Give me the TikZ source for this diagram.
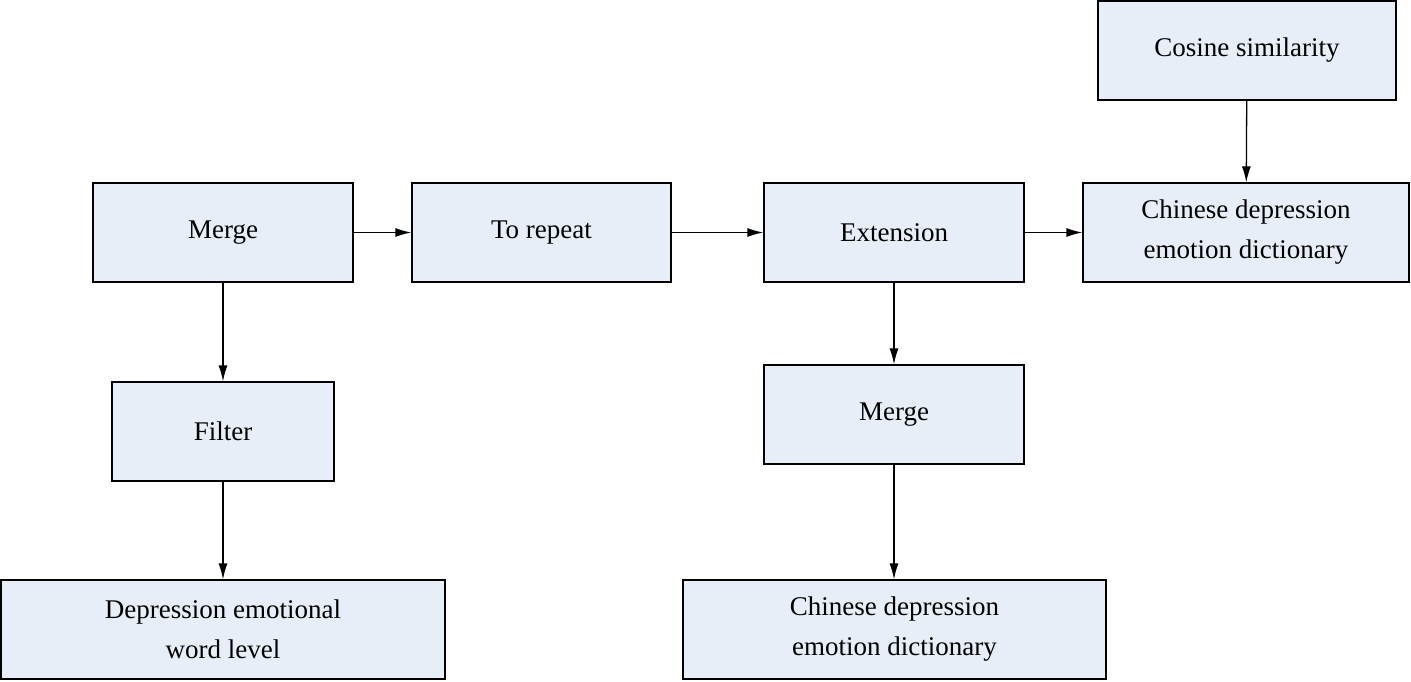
\documentclass[tikz,border=0pt]{standalone}
\usepackage{fontspec}
\setmainfont{Liberation Serif}
\usetikzlibrary{arrows.meta}
\definecolor{boxfill}{HTML}{E8EEF8}
\begin{document}
\begin{tikzpicture}[x=1pt,y=-1pt,
  box/.style={draw,line width=1.3pt,fill=boxfill,align=center,inner sep=0pt,font=\fontsize{27}{40}\selectfont},
  arr/.style={-{Latex[length=16pt,width=9pt]},line width=1.3pt}]
\useasboundingbox (0,0) rectangle (1411,681);
\newcommand{\bx}[6]{\node[box,minimum width=#4-#2,minimum height=#5-#3] (#1) at ({(#2+#4)/2},{(#3+#5)/2}) {#6};}
\bx{m1}{93}{183}{353}{282}{Merge}
\bx{rep}{412}{183}{671}{282}{To repeat}
\bx{ext}{764}{183}{1024}{282}{Extension}
\bx{cdt}{1083}{183}{1409}{282}{Chinese depression\\emotion dictionary}
\bx{cos}{1098}{1}{1396}{100}{Cosine similarity}
\bx{fil}{112}{382}{334}{481}{Filter}
\bx{m2}{764}{365}{1024}{464}{Merge}
\bx{dep}{1}{580}{445}{679}{Depression emotional\\word level}
\bx{cdb}{683}{580}{1106}{679}{Chinese depression\\emotion dictionary}
\draw[arr] (m1) -- (rep);
\draw[arr] (rep) -- (ext);
\draw[arr] (ext) -- (cdt);
\draw[arr] (cos) -- (cdt);
\draw[arr] (m1.south -| fil) -- (fil);
\draw[arr] (fil) -- (fil |- dep.north);
\draw[arr] (ext) -- (m2);
\draw[arr] (m2) -- (m2 |- cdb.north);
\end{tikzpicture}
\end{document}
